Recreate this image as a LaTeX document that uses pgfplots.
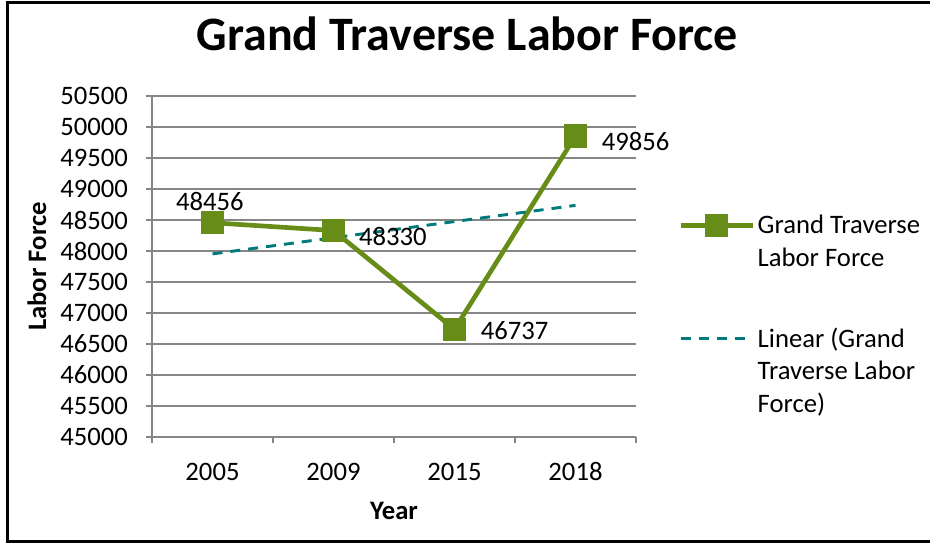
\documentclass[border=0pt]{standalone}
\usepackage{fontspec}
\setmainfont{Carlito}
\usepackage{pgfplots}
\pgfplotsset{compat=1.18}

\definecolor{lfgreen}{RGB}{104,140,24}
\definecolor{trendteal}{RGB}{0,122,122}
\definecolor{gridgray}{RGB}{134,134,134}

\begin{document}
\begin{tikzpicture}
\useasboundingbox (0,0) rectangle (697.5pt,-408pt);
\draw[line width=2pt] (5.5pt,-2pt) rectangle (702pt,-406pt);
\node[font=\bfseries\fontsize{36}{42}\selectfont, anchor=base] at (350.6pt,-37.5pt) {Grand Traverse Labor Force};

\begin{axis}[
  at={(114pt,-327.75pt)}, anchor=south west,
  scale only axis,
  width=363pt, height=255.75pt,
  xmin=-0.5, xmax=3.5,
  ymin=45000, ymax=50500,
  ytick={45000,45500,...,50500},
  scaled y ticks=false,
  yticklabel={\pgfmathprintnumber[fixed,precision=0,set thousands separator={}]{\tick}},
  xtick={0,1,2,3},
  xticklabels={2005,2009,2015,2018},
  minor xtick={-0.5,0.5,1.5,2.5,3.5},
  major x tick style={draw=none},
  tick align=outside,
  major tick length=4.5pt,
  minor tick length=4.5pt,
  every tick/.style={gridgray, line width=1pt},
  axis x line*=bottom,
  axis y line*=left,
  axis line style={gridgray, line width=1pt, -},
  ymajorgrids,
  major grid style={gridgray, line width=1pt},
  tick label style={font=\fontsize{20}{24}\selectfont},
  /pgf/number format/assume math mode=true,
  yticklabel style={anchor=east, xshift=-10pt},
  xticklabel style={anchor=base, yshift=-27.75pt},
  xlabel={Year},
  ylabel={Labor Force},
  label style={font=\bfseries\fontsize{20}{24}\selectfont},
  xlabel style={at={(axis description cs:0.5,0)}, anchor=base, yshift=-61.5pt},
  ylabel style={at={(axis description cs:-0.219,0.5)}, anchor=base},
  clip=false,
  legend style={draw=none, at={(1.087,0.6595)}, anchor=north west,
    font=\fontsize{20}{24.5}\selectfont, cells={align=left},
    row sep=40.5pt, inner sep=0pt},
  legend cell align=left,
]
\addplot[lfgreen, line width=3.5pt, mark=square*, mark size=7pt,
  mark options={solid},
  legend image code/.code={\draw[lfgreen, line width=3.5pt, mark=square*, mark size=7pt, mark repeat=2, mark phase=2, yshift=12.25pt] plot coordinates {(0pt,0pt) (27pt,0pt) (54pt,0pt)};}]
  coordinates {(0,48456) (1,48330) (2,46737) (3,49856)};
\addlegendentry{Grand Traverse\\Labor Force}

\addplot[trendteal, line width=2.2pt, dash pattern=on 7.5pt off 6pt,
  legend image code/.code={\draw[trendteal, line width=2.2pt, dash pattern=on 7.5pt off 6pt] (0pt,24.5pt) -- (54pt,24.5pt);}]
  coordinates {(0,47953.7) (3,48735.8)};
\addlegendentry{Linear (Grand\\Traverse Labor\\Force)}

\node[anchor=base, font=\fontsize{20}{24}\selectfont, xshift=-2pt, yshift=9pt] at (axis cs:0,48456) {48456};
\node[anchor=base west, inner sep=0pt, font=\fontsize{20}{24}\selectfont, xshift=19pt, yshift=-11.25pt] at (axis cs:1,48330) {48330};
\node[anchor=base west, inner sep=0pt, font=\fontsize{20}{24}\selectfont, xshift=19.5pt, yshift=-7.5pt] at (axis cs:2,46737) {46737};
\node[anchor=base west, inner sep=0pt, font=\fontsize{20}{24}\selectfont, xshift=19.5pt, yshift=-11.25pt] at (axis cs:3,49856) {49856};
\end{axis}
\end{tikzpicture}
\end{document}
